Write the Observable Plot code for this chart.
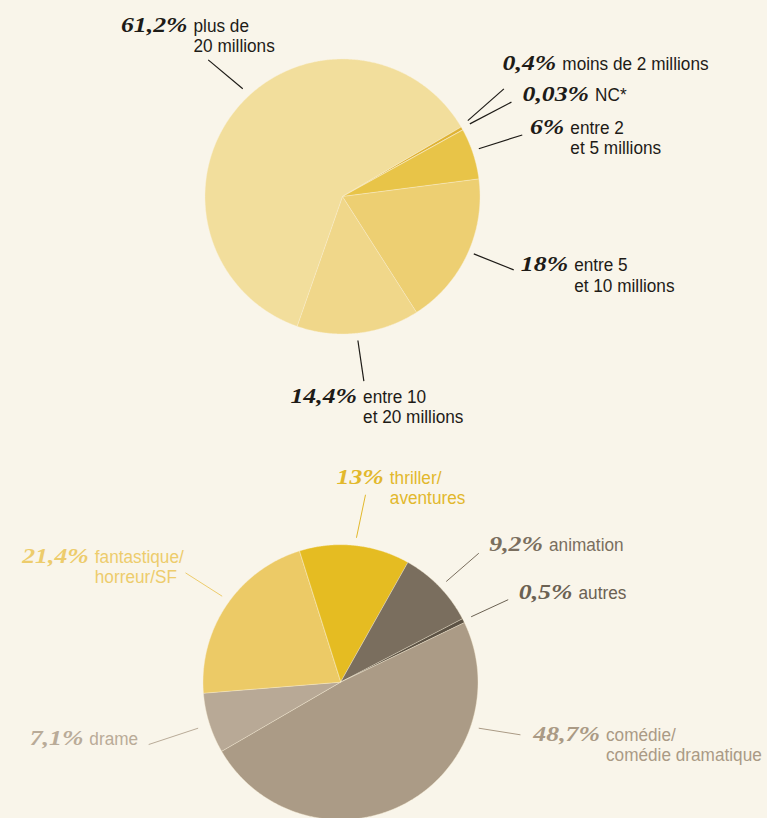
<!DOCTYPE html>
<html>
<head>
<meta charset="utf-8">
<script src="https://cdn.jsdelivr.net/npm/d3@7"></script>
<script src="https://cdn.jsdelivr.net/npm/@observablehq/plot@0.6"></script>
<style>
  html, body { margin: 0; padding: 0; background: #F9F5EA; }
  #chart { width: 767px; height: 818px; }
</style>
</head>
<body>
<div id="chart"></div>
<script>
// ---------- DATA ----------
// Pie 1 : budget des films (en euros), parts en %
const budgetLabels = ["moins de 2 millions", "NC*", "entre 2\net 5 millions", "entre 5\net 10 millions", "entre 10\net 20 millions", "plus de\n20 millions"];
const budgetValues = [0.4, 0.03, 6, 18, 14.4, 61.2];

// Pie 2 : genres, parts en %
const genreLabels = ["thriller/\naventures", "animation", "autres", "comédie/\ncomédie dramatique", "drame", "fantastique/\nhorreur/SF"];
const genreValues = [13, 9.2, 0.5, 48.7, 7.1, 21.4];

// ---------- STYLE ----------
const budgetColors = ["#DFB334", "#DDB02E", "#E8C448", "#EDCF72", "#F0D78A", "#F2DE9C"];
const budgetTextColors = ["#1E1B17", "#1E1B17", "#1E1B17", "#1E1B17", "#1E1B17", "#1E1B17"];
const genreColors = ["#E5BC22", "#7A6E5E", "#5C5244", "#AB9B86", "#B8A996", "#ECCA66"];
const genreTextColors = ["#E2B82C", "#7A6E5E", "#6B6152", "#AA9A85", "#B9AB98", "#EDCC6C"];

// ---------- LAYOUT (pie geometry and label placement, polar around each pie) ----------
const budgetLayout = [
  {a1: 58.8, r1: 146.5, a2: 56.3, r2: 194, dx: 55.4, dy: -19},
  {a1: 60.3, r1: 146.6, a2: 60.8, r2: 193.5, dx: 80.7, dy: -1},
  {a1: 70.7, r1: 144.4, a2: 71.1, r2: 190, dx: 45.1, dy: -1},
  {a1: 113.6, r1: 143.3, a2: 113.2, r2: 186.3, dx: 57.4, dy: 1.4},
  {a1: 173.9, r1: 144.8, a2: 173.4, r2: 185.9, dx: -3.8, dy: 21.6},
  {a1: 317.2, r1: 146.8, a2: 315.5, r2: 191.6, dx: -17.7, dy: -28.3}
];
const genreLayout = [
  {a1: 6.3, r1: 145.3, a2: 7.6, r2: 189.1, dx: 21.3, dy: -11},
  {a1: 46.4, r1: 146, a2: 47, r2: 189.1, dx: 67.2, dy: -2},
  {a1: 63.4, r1: 146.1, a2: 63.8, r2: 186.9, dx: 67.3, dy: -1},
  {a1: 108.4, r1: 145.7, a2: 106.3, r2: 187.5, dx: 82.5, dy: 6.4},
  {a1: 252.1, r1: 149.6, a2: 252, r2: 201.7, dx: -62.3, dy: 0},
  {a1: 306, r1: 146.3, a2: 305.2, r2: 189.7, dx: -93.7, dy: -10}
];

const pies = [
  {id: "budget", labels: budgetLabels, values: budgetValues, colors: budgetColors, textColors: budgetTextColors,
   layout: budgetLayout, cx: 342, cy: 196, r: 137.5, start: 59.5, lineH: 20.5, lineColor: "#1E1B17", lineW: 1.2},
  {id: "genre", labels: genreLabels, values: genreValues, colors: genreColors, textColors: genreTextColors,
   layout: genreLayout, cx: 340, cy: 681.7, r: 137.5, start: -17.5, lineH: 20, lineColor: null, lineW: 1}
];

// ---------- BUILD GEOMETRY ----------
const rad = Math.PI / 180;
const slicePts = [], leaders = [], pctTexts = [], labelLines = [];
const fmt = v => String(v).replace(".", ",") + "%";

for (const p of pies) {
  const rows = p.labels.map((label, i) => ({label, value: p.values[i], i}));
  const arcs = d3.pie().sort(null).value(d => d.value)
    .startAngle(p.start * rad).endAngle(p.start * rad + 2 * Math.PI)(rows);
  const pt = (a, r) => [p.cx + r * Math.sin(a), p.cy - r * Math.cos(a)];
  for (const arc of arcs) {
    const key = p.id + "-" + arc.data.i;
    const color = p.colors[arc.data.i];
    const n = Math.max(2, Math.ceil((arc.endAngle - arc.startAngle) / (0.4 * rad)));
    slicePts.push({key, color, x: p.cx, y: p.cy});
    for (let k = 0; k <= n; k++) {
      const a = arc.startAngle + (arc.endAngle - arc.startAngle) * k / n;
      const [x, y] = pt(a, p.r);
      slicePts.push({key, color, x, y});
    }
    const L = p.layout[arc.data.i];
    const [x1, y1] = pt(L.a1 * rad, L.r1);
    const [x2, y2] = pt(L.a2 * rad, L.r2);
    const tcol = p.textColors[arc.data.i];
    leaders.push({x1, y1, x2, y2, color: p.lineColor || tcol, w: p.lineW});
    const tx = x2 + L.dx, ty = y2 + L.dy;
    pctTexts.push({x: tx - 3, y: ty, text: fmt(arc.data.value), color: tcol});
    arc.data.label.split("\n").forEach((line, j) => {
      labelLines.push({x: tx + 3, y: ty + j * p.lineH, text: line, color: tcol});
    });
  }
}

// ---------- PLOT ----------
const chart = Plot.plot({
  width: 767,
  height: 818,
  margin: 0,
  x: {domain: [0, 767], axis: null},
  y: {domain: [0, 818], reverse: true, axis: null},
  color: {type: "identity"},
  style: {background: "#F9F5EA", overflow: "visible"},
  marks: [
    Plot.line(slicePts, {x: "x", y: "y", z: "key", fill: "color", stroke: "#FAF1D8",
      strokeWidth: 0.6, strokeOpacity: 0.7, curve: "linear-closed"}),
    Plot.link(leaders, {x1: "x1", y1: "y1", x2: "x2", y2: "y2", stroke: "color", strokeWidth: "w"}),
    Plot.text(pctTexts, {x: "x", y: "y", text: "text", fill: "color", textAnchor: "end", lineAnchor: "bottom",
      fontFamily: "'Liberation Serif', 'DejaVu Serif', serif", fontStyle: "italic", fontWeight: "bold", fontSize: 21.5}),
    Plot.text(labelLines, {x: "x", y: "y", text: "text", fill: "color", textAnchor: "start", lineAnchor: "bottom",
      fontFamily: "'Liberation Sans', Arial, sans-serif", fontSize: 18.5})
  ]
});
// horizontal glyph proportions: wide Bodoni-like percentages, condensed labels
const stretch = (sel, sx) => chart.querySelectorAll(sel).forEach(t => {
  t.setAttribute("transform", (t.getAttribute("transform") || "") + ` scale(${sx},1)`);
});
stretch('g[font-family*="Liberation Serif"] text', 1.2);
stretch('g[font-family*="Liberation Sans"] text', 0.93);
document.getElementById("chart").appendChild(chart);
</script>
</body>
</html>
